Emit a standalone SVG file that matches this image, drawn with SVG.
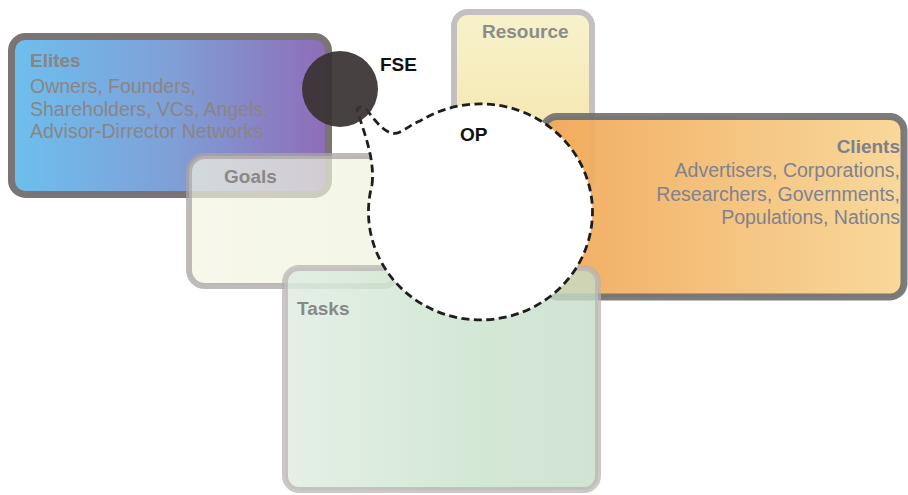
<svg xmlns="http://www.w3.org/2000/svg" width="908" height="495" viewBox="0 0 908 495">
<defs>
<linearGradient id="gElites" x1="0" y1="0" x2="1" y2="0">
<stop offset="0" stop-color="#6dbfee"/><stop offset="0.5" stop-color="#7fa0d7"/><stop offset="1" stop-color="#8f6cb8"/>
</linearGradient>
<linearGradient id="gClients" x1="0" y1="0" x2="1" y2="0">
<stop offset="0" stop-color="#f0a655"/><stop offset="1" stop-color="#f8d592"/>
</linearGradient>
<linearGradient id="gResource" x1="0" y1="0" x2="0" y2="1">
<stop offset="0" stop-color="#f7f2cc"/><stop offset="1" stop-color="#f6e2a6"/>
</linearGradient>
<linearGradient id="gGoals" x1="0" y1="0" x2="1" y2="0">
<stop offset="0" stop-color="#f4f4e2"/><stop offset="1" stop-color="#eef3dc"/>
</linearGradient>
<linearGradient id="gTasks" x1="0" y1="0" x2="1" y2="0">
<stop offset="0" stop-color="#deece0"/><stop offset="0.6" stop-color="#c9e2cc"/><stop offset="1" stop-color="#c6dcc8"/>
</linearGradient>
</defs>
<style>
.head{font-family:"Liberation Sans",Arial,sans-serif;font-weight:bold;font-size:19px;}
.body{font-family:"Liberation Sans",Arial,sans-serif;font-size:19.5px;}
.dash{fill:#ffffff;stroke:#1e1e1e;stroke-width:2.8;stroke-dasharray:8 4.5;}
</style>
<g id="elites">
<rect x="11.5" y="36.5" width="317" height="158" rx="14" fill="url(#gElites)" stroke="#7a7474" stroke-width="7"/>
<text class="head" x="30" y="67" fill="#8a8484">Elites</text>
<text class="body" fill="#8a8585"><tspan x="30" y="93">Owners, Founders,</tspan><tspan x="30" y="116">Shareholders, VCs, Angels,</tspan><tspan x="30" y="138">Advisor-Dirrector Networks</tspan></text>
</g>
<g id="resource">
<rect x="454" y="12" width="138" height="180" rx="14" fill="url(#gResource)" stroke="#c4c0c0" stroke-width="6"/>
<text class="head" x="482" y="38" fill="#8c8c8c">Resource</text>
</g>
<g id="clients">
<rect x="543" y="116.5" width="361" height="180.5" rx="14" fill="url(#gClients)" fill-opacity="0.92" stroke="#6e6e72" stroke-opacity="0.9" stroke-width="7"/>
<text class="head" x="900" y="153" fill="#7e7f8c" text-anchor="end">Clients</text>
<text class="body" fill="#7f8290" text-anchor="end"><tspan x="900" y="177">Advertisers, Corporations,</tspan><tspan x="900" y="200.5">Researchers, Governments,</tspan><tspan x="900" y="224">Populations, Nations</tspan></text>
</g>
<g id="goals">
<rect x="189" y="156" width="210" height="130" rx="16" fill="url(#gGoals)" fill-opacity="0.7" stroke="#aaa4a4" stroke-opacity="0.75" stroke-width="6"/>
<text class="head" x="224" y="183" fill="#888888">Goals</text>
</g>
<g id="tasks">
<rect x="285" y="268" width="313" height="222" rx="14" fill="url(#gTasks)" fill-opacity="0.8" stroke="#b8b0b0" stroke-opacity="0.7" stroke-width="6"/>
<text class="head" x="297" y="315" fill="#888888">Tasks</text>
</g>
<g id="op">
<path class="dash" d="M 372,185 C 375,160 365,135 357,110 Q 360,104 367,110 C 380,128 390,137 400,132 C 408,128 414,123 420,121 A 112 108 0 1 1 372,185 Z"/>
<text class="head" x="460" y="141" fill="#111111">OP</text>
</g>
<g id="fse">
<circle cx="340" cy="89" r="38" fill="#3a3333" fill-opacity="0.93"/>
<text class="head" x="380" y="71" fill="#111111">FSE</text>
</g>
<g id="connectors"></g>
</svg>
